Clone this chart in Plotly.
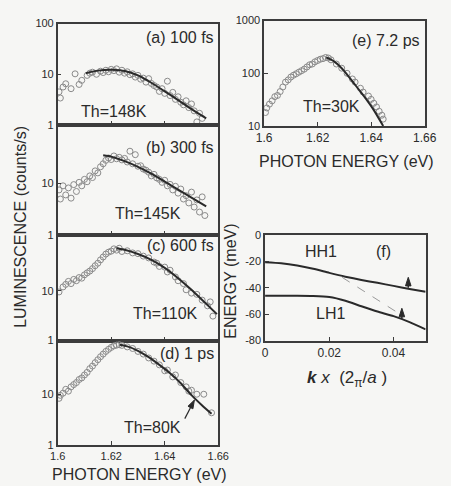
import plotly.graph_objects as go

# ---------------- data ----------------
# (a) 100 fs
a_x = [1.6005, 1.601, 1.602, 1.603, 1.605, 1.6065, 1.608, 1.609, 1.611, 1.612, 1.613, 1.6145,
       1.616, 1.617, 1.618, 1.619, 1.620, 1.621, 1.622, 1.623, 1.624, 1.625, 1.626, 1.627,
       1.628, 1.629, 1.630, 1.631, 1.632, 1.633, 1.634, 1.635, 1.636, 1.637, 1.638, 1.639,
       1.640, 1.641, 1.642, 1.643, 1.644, 1.645, 1.646, 1.647, 1.648, 1.649, 1.650, 1.651,
       1.652, 1.653, 1.654]
a_y = [4.5, 3.4, 5.6, 6.5, 5.2, 10.2, 6.3, 7.6, 9.5, 10.5, 11.0, 10.0,
       11.5, 10.8, 12.0, 11.2, 12.5, 11.8, 12.8, 11.0, 12.0, 10.5, 11.2, 9.8,
       10.2, 8.8, 9.5, 8.0, 8.4, 7.0, 8.2, 6.6, 6.0, 5.6, 4.6, 5.2,
       4.2, 7.3, 3.8, 4.4, 3.2, 3.6, 2.8, 2.5, 3.0, 2.2, 2.6, 1.9,
       1.15, 1.7, 1.35]
a_fit_x = [1.6105, 1.615, 1.620, 1.625, 1.630, 1.635, 1.640, 1.645, 1.650, 1.6555]
a_fit_y = [10.5, 11.8, 12.3, 11.6, 9.5, 6.8, 4.6, 3.1, 2.05, 1.35]

# (b) 300 fs
b_x = [1.6005, 1.601, 1.602, 1.603, 1.604, 1.605, 1.606, 1.607, 1.608, 1.609, 1.610, 1.611,
       1.612, 1.613, 1.614, 1.615, 1.616, 1.617, 1.618, 1.619, 1.620, 1.621, 1.622, 1.623,
       1.624, 1.625, 1.626, 1.627, 1.628, 1.629, 1.630, 1.631, 1.632, 1.633, 1.634, 1.635,
       1.636, 1.637, 1.638, 1.639, 1.640, 1.641, 1.642, 1.643, 1.644, 1.645, 1.646, 1.647,
       1.648, 1.649, 1.650, 1.651, 1.652, 1.653, 1.654, 1.655]
b_y = [7.5, 5.0, 9.0, 6.0, 8.2, 5.2, 9.5, 7.0, 10.5, 9.0, 12.0, 10.8,
       14.0, 13.0, 17.5, 16.0, 21.0, 24.0, 28.0, 31.0, 29.0, 34.0, 30.0, 32.0,
       28.5, 30.5, 26.0, 42.0, 24.0, 36.0, 21.5, 22.0, 19.0, 18.0, 16.5, 14.0,
       15.0, 12.8, 12.0, 10.5, 11.5, 9.0, 9.6, 7.5, 8.8, 6.5, 7.8, 5.0,
       5.8, 4.2, 6.8, 3.5, 4.8, 2.8, 5.5, 2.4]
b_fit_x = [1.617, 1.620, 1.625, 1.630, 1.635, 1.640, 1.645, 1.650, 1.6555]
b_fit_y = [35, 33, 27, 21, 15.5, 10.8, 7.6, 5.3, 3.6]

# (c) 600 fs
c_x = [1.6005, 1.602, 1.603, 1.604, 1.605, 1.606, 1.607, 1.608, 1.609, 1.610, 1.611, 1.612,
       1.613, 1.614, 1.615, 1.616, 1.617, 1.618, 1.619, 1.620, 1.621, 1.622, 1.623, 1.624,
       1.626, 1.628, 1.630, 1.632, 1.634, 1.636, 1.637, 1.638, 1.640, 1.641, 1.642, 1.644,
       1.645, 1.647, 1.648, 1.650, 1.652, 1.654, 1.656, 1.657, 1.658]
c_y = [9.5, 12.0, 13.5, 15.5, 14.0, 17.0, 16.0, 18.5, 18.0, 21.0, 23.0, 25.0,
       28.0, 32.0, 36.0, 42.0, 48.0, 55.0, 60.0, 63.0, 70.0, 66.0, 72.0, 62.0,
       64.0, 58.0, 56.0, 50.0, 46.0, 38.0, 36.0, 31.0, 30.0, 24.0, 26.0, 19.0,
       16.0, 14.0, 10.5, 9.0, 8.5, 6.5, 5.0, 6.0, 3.1]
c_fit_x = [1.622, 1.625, 1.630, 1.635, 1.640, 1.645, 1.650, 1.655, 1.6595]
c_fit_y = [72, 67, 55, 42, 29, 18, 10.5, 5.8, 3.4]

# (d) 1 ps
d_x = [1.6005, 1.601, 1.602, 1.603, 1.604, 1.605, 1.606, 1.607, 1.608, 1.609, 1.610, 1.611,
       1.612, 1.613, 1.614, 1.615, 1.616, 1.617, 1.618, 1.619, 1.620, 1.621, 1.622, 1.623,
       1.624, 1.626, 1.628, 1.630, 1.632, 1.634, 1.636, 1.638, 1.640, 1.641, 1.643, 1.644,
       1.646, 1.648, 1.649, 1.650, 1.652, 1.6546, 1.6575]
d_y = [8.3, 9.5, 10.5, 12.5, 11.5, 14.0, 15.5, 17.0, 19.5, 21.0, 24.0, 27.0,
       32.0, 36.0, 42.0, 48.0, 55.0, 62.0, 70.0, 77.0, 84.0, 90.0, 93.0, 95.0,
       92.0, 86.0, 80.0, 70.0, 62.0, 52.0, 45.0, 38.0, 29.0, 30.0, 22.0, 24.0,
       17.0, 14.0, 11.5, 12.0, 10.0, 10.0, 4.3]
d_fit_x = [1.6232, 1.626, 1.630, 1.634, 1.638, 1.642, 1.646, 1.650, 1.654, 1.6575]
d_fit_y = [95, 88, 72, 54, 38, 26, 16.5, 9.6, 6.0, 4.1]
# pointer from the 80K label to the fitted line (tail, head)
d_arrow_x = [1.6475, 1.6511]
d_arrow_y = [3.3, 7.7]

# (e) 7.2 ps
e_x = [1.6005, 1.601, 1.602, 1.603, 1.604, 1.605, 1.606, 1.607, 1.608, 1.609, 1.610, 1.611,
       1.612, 1.613, 1.614, 1.615, 1.616, 1.617, 1.618, 1.619, 1.620, 1.621, 1.622, 1.623,
       1.624, 1.625, 1.627, 1.629, 1.631, 1.633, 1.634, 1.636, 1.637, 1.639, 1.640, 1.641,
       1.642, 1.643, 1.644, 1.6445]
e_y = [18, 22, 26, 30, 36, 38, 45, 55, 68, 75, 85, 92,
       98, 105, 112, 120, 132, 145, 150, 165, 175, 185, 190, 200,
       195, 180, 150, 125, 100, 78, 68, 52, 44, 37, 32, 27,
       23, 19, 16, 13.5]
e_fit_x = [1.6232, 1.626, 1.629, 1.632, 1.635, 1.638, 1.641, 1.6445]
e_fit_y = [200, 170, 125, 82, 52, 33, 20, 10]

# (f) valence-band dispersion
k_vals = [0, 0.005, 0.01, 0.015, 0.02, 0.025, 0.03, 0.035, 0.04, 0.045, 0.05]
hh1_E = [-20.5, -21.3, -23.0, -25.5, -28.6, -31.5, -34.0, -36.2, -38.5, -40.8, -43.0]
lh1_E = [-46.0, -46.0, -46.0, -46.2, -47.0, -49.8, -54.0, -58.0, -61.5, -66.0, -71.5]
trans_k = [0.024, 0.0414]
trans_E = [-32, -59]
# band markers (k, tail energy, head energy)
hh1_arrow = [0.0446, -40.0, -32.0]
lh1_arrow = [0.0426, -63.5, -55.5]

x_ticks = [1.60, 1.62, 1.64, 1.66]
x_tick_text = ["1.6", "1.62", "1.64", "1.66"]
k_ticks = [0, 0.02, 0.04]
k_tick_text = ["0", "0.02", "0.04"]
E_ticks = [0, -20, -40, -60, -80]
E_tick_text = ["0", "-20", "-40", "-60", "-80"]

# ---------------- styling ----------------
W, H = 451, 486
FONT = "Liberation Sans, Arial, Helvetica, sans-serif"
INK = "#2a2a2a"
AXIS = "#3c3c3c"
DOT = "#8a8a8a"
BG = "#f6f6f4"


def px(x):
    return x / W


def py(y):
    return 1 - y / H


fig = go.Figure()

panels = [
    (a_x, a_y, a_fit_x, a_fit_y, "x", "y"),
    (b_x, b_y, b_fit_x, b_fit_y, "x2", "y2"),
    (c_x, c_y, c_fit_x, c_fit_y, "x3", "y3"),
    (d_x, d_y, d_fit_x, d_fit_y, "x4", "y4"),
    (e_x, e_y, e_fit_x, e_fit_y, "x5", "y5"),
]
for xs, ys, fx, fy, xa, ya in panels:
    fig.add_trace(go.Scatter(
        x=xs, y=ys, mode="markers", xaxis=xa, yaxis=ya, showlegend=False,
        marker=dict(symbol="circle-open", size=6, color=DOT, line=dict(width=1, color=DOT)),
    ))
    fig.add_trace(go.Scatter(
        x=fx, y=fy, mode="lines", xaxis=xa, yaxis=ya, showlegend=False,
        line=dict(color=INK, width=2, shape="spline", smoothing=0.6),
    ))

fig.add_trace(go.Scatter(x=k_vals, y=hh1_E, mode="lines", xaxis="x6", yaxis="y6",
                         showlegend=False, line=dict(color=INK, width=2, shape="spline", smoothing=0.6)))
fig.add_trace(go.Scatter(x=k_vals, y=lh1_E, mode="lines", xaxis="x6", yaxis="y6",
                         showlegend=False, line=dict(color=INK, width=2, shape="spline", smoothing=0.6)))
fig.add_trace(go.Scatter(x=trans_k, y=trans_E, mode="lines", xaxis="x6", yaxis="y6",
                         showlegend=False, line=dict(color="#9a9a9a", width=1, dash="dash")))


def arrow(xs, ys, xa, ya, width):
    # shaft plus an arrowhead oriented along the shaft at its last point
    fig.add_trace(go.Scatter(
        x=xs, y=ys, mode="lines+markers", xaxis=xa, yaxis=ya, showlegend=False,
        line=dict(color=INK, width=width),
        marker=dict(symbol="arrow", angleref="previous", size=[0, 9], color=INK,
                    opacity=1, line=dict(width=1, color=INK)),
    ))


arrow(d_arrow_x, d_arrow_y, "x4", "y4", 1.2)
for k, e0, e1 in [hh1_arrow, lh1_arrow]:
    arrow([k, k], [e0, e1], "x6", "y6", 1.5)

common_axis = dict(showline=True, mirror=True, linecolor=AXIS, linewidth=1.5,
                   showgrid=False, zeroline=False, ticks="inside", ticklen=4,
                   tickcolor=AXIS, tickfont=dict(family=FONT, size=11, color=INK))

left_dom = [px(52), px(220)]
left_rows = [(18, 122, 2.0, [1, 10, 100]), (122, 235, 2.13, [1, 10]),
             (235, 343, 2.12, [1, 10]), (343, 450, 2.06, [1, 10])]

layout = dict(width=W, height=H, margin=dict(l=0, r=0, t=0, b=0),
              paper_bgcolor=BG, plot_bgcolor=BG, showlegend=False,
              font=dict(family=FONT, color=INK))

for i, (top, bot, ytop, yt) in enumerate(left_rows, start=1):
    sx = "" if i == 1 else str(i)
    layout["xaxis" + sx] = dict(common_axis, domain=left_dom, range=[1.6, 1.66],
                                anchor="y" + sx, tickvals=x_ticks, ticktext=x_tick_text,
                                showticklabels=(i == 4),
                                tickfont=dict(family=FONT, size=11, color=INK))
    layout["yaxis" + sx] = dict(common_axis, domain=[py(bot), py(top)], type="log",
                                range=[0, ytop], anchor="x" + sx,
                                tickvals=yt, ticktext=[str(v) for v in yt])

layout["xaxis5"] = dict(common_axis, domain=[px(268), px(436)], range=[1.6, 1.66], anchor="y5",
                        tickvals=x_ticks, ticktext=x_tick_text,
                        tickfont=dict(family=FONT, size=12, color=INK))
layout["yaxis5"] = dict(common_axis, domain=[py(123), py(15)], type="log", range=[1, 3],
                        anchor="x5", tickvals=[10, 100, 1000], ticktext=["10", "100", "1000"])
layout["xaxis6"] = dict(common_axis, domain=[px(269), px(437)], range=[0, 0.05], anchor="y6",
                        tickvals=k_ticks, ticktext=k_tick_text,
                        tickfont=dict(family=FONT, size=12, color=INK))
layout["yaxis6"] = dict(common_axis, domain=[py(343), py(235)], range=[-80, 0], anchor="x6",
                        tickvals=E_ticks, ticktext=E_tick_text)

fig.update_layout(**layout)


def label(text, x, y, size=16, xanchor="center", angle=0):
    fig.add_annotation(text=text, x=px(x), y=py(y), xref="paper", yref="paper",
                       xanchor=xanchor, yanchor="middle", showarrow=False, textangle=angle,
                       font=dict(family=FONT, size=size, color=INK))


label("(a) 100 fs", 218, 32, xanchor="right")
label("Th=148K", 111, 108)
label("(b) 300 fs", 218, 145, xanchor="right")
label("Th=145K", 146, 213)
label("(c) 600 fs", 218, 246, xanchor="right")
label("Th=110K", 165, 315)
label("(d) 1 ps", 218, 356, xanchor="right")
label("Th=80K", 151, 432)
label("(e) 7.2 ps", 433, 35, xanchor="right")
label("Th=30K", 338, 103)
label("HH1", 328, 252)
label("(f)", 393, 252)
label("LH1", 337, 315)

label("LUMINESCENCE (counts/s)", 13, 226, size=16, angle=-90)
label("PHOTON ENERGY (eV)", 138, 480, size=16)
label("PHOTON ENERGY (eV)", 354, 159, size=16)
label("ENERGY (meV)", 232, 282, size=16, angle=-90)
label("<b><i>k</i></b> <i>x</i>  (2<sub>π</sub>/<i>a</i> )", 355, 382, size=17)

fig.write_html("out.html")
